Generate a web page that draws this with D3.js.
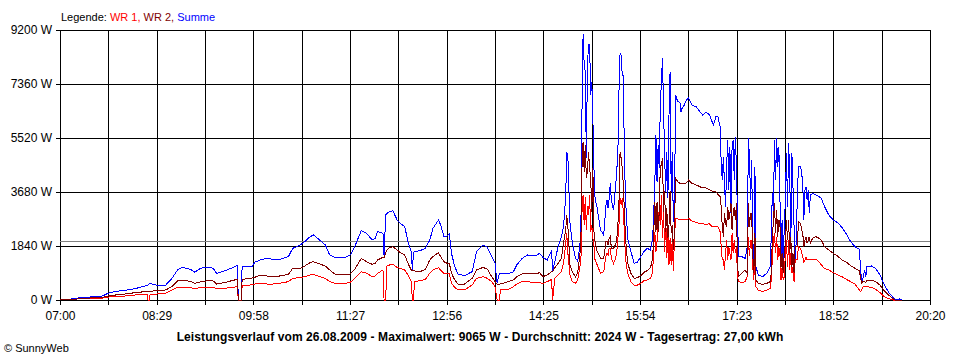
<!DOCTYPE html>
<html><head><meta charset="utf-8">
<script src="https://cdn.jsdelivr.net/npm/d3@7"></script>
<style>
body{margin:0;background:#fff;}
svg{display:block;font-family:"Liberation Sans",Arial,sans-serif;}
</style></head>
<body><svg id="c" width="960" height="360"></svg>
<script>
// minutes after 07:00
const times = [0,8,15,20,25,30,36,40,44,51,60,69,78,80,81,82,83,89,97,103,108,112,120,124,129,136,141,144,152,158,163,164,166.5,167.5,177,179,184,190,196,202,210,214,221,225,230,233,237,244,248,253,262,267,271,277,282,287,290,292,297,298,299.5,300.5,303,306,310,313,317,320,323,324,325,326,331,336,340,343,348,350,353,356,358,360,363,366,372,379,383,389,393,397,400,402,404,405,412,417,420,425,430,437,441,444,448,451,452,453,455,458,461,463,465,466,467,469,471,474,476,478,479,480,481,482,483,484,485,486,487,488,489,490,491,492,494,497,500,502,503,504,505,506,507,509,511,512,513,514,515,516,517,518,519,520,522,525,528,531,534,537,540,543,545,546,547,548,549,550,551,552,553,554,555,556,557,558,559,560,561,562,563,564,565,566,568,570,571,572,574,576,578,581,585,589,591,594,597,599,601,603,605,607,608,609,610,611,612,613,614,615,616,617,618,619,620,621,622,623,624,627,630,632,633,634,635,636,637,638,639,640,642,646,650,653,654,655,656,657,658,659,660,661,662,663,664,665,666,667,668,669,670,671,672,673,674,675,676,677,678,679,681,682,683,684,685,686,687,688,689,690,692,695,698,700,703,707,711,715,719,723,727,731,735,736,737,738,739,740,741,742,746,750,754,758,762,766,768,772,774];
const summe = [10,20,60,90,80,120,110,150,228,295,330,386,477,490,520,560,560,500,500,738,1022,1113,1045,943,1079,1124,1079,909,999,1090,1181,0,0,1158,1158,1284,1363,1420,1386,1386,1477,1761,1874,1988,2158,2215,2101,1874,1533,1442,1454,1533,1817,2362,2271,2044,2101,2328,2271,1500,2896,2950,3010,3044,2726,2612,2498,1988,1647,1022,1600,1647,1681,1761,2044,2442,2726,2555,2180,2180,2248,1590,1136,886,829,966,1647,1874,1795,1477,1250,568,909,909,886,966,1192,1420,1533,1499,1590,1454,1363,1590,1704,966,1306,1817,2158,2498,3520,5053,4882,2612,1988,1420,1329,1800,2500,6500,9065,8007,7780,4826,8007,8688,8700,7000,7438,6200,4487,3465,3124,2385,2214,3237,3407,3124,3465,3976,3407,3066,3918,4429,5053,7097,8404,8348,7666,7666,4826,3465,2101,1647,1250,1284,1477,1647,1761,1704,2101,3010,4032,5621,4032,5280,4487,6643,7438,8233,6530,4826,3691,5053,3465,6300,7780,3691,5053,2669,2669,6984,6757,6740,6416,6530,6643,6814,6893,6643,6587,6393,6303,6393,6325,6132,5962,6245,6245,5905,4656,4088,4882,3976,3180,4543,5451,3748,5224,2953,5224,5451,4088,5564,4543,2726,1477,1477,1420,1817,5508,4883,3407,4770,1817,1363,4543,1136,852,795,909,1136,2158,3634,2953,5451,4088,5508,4543,5224,3520,1477,2726,1363,2498,3407,4998,3180,5338,4315,1817,4998,3861,2498,1250,2044,3520,4543,4565,4315,3975,2726,3748,3861,3407,3748,2953,3577,3634,3577,3520,3464,3180,2896,2726,2635,2476,2250,1988,1817,1727,1136,681,681,852,1022,795,1136,1160,1070,852,511,261,91,23,34,0];
const wr2 = [0,10,30,60,50,80,80,100,136,170,204,250,284,290,295,300,300,318,341,454,647,681,636,568,613,659,647,545,602,659,704,0,0,704,750,772,852,818,795,818,875,1079,1079,1158,1272,1306,1250,1158,1022,875,852,886,1045,1420,1306,1215,1250,1363,1454,1454,1600,1700,1783,1817,1704,1613,1533,1250,1022,1000,1000,990,966,1045,1363,1477,1613,1477,1306,1250,1250,909,682,545,545,738,1022,1113,1045,795,625,545,545,545,625,682,795,886,909,886,931,795,852,931,966,966,1102,1250,1420,1931,2385,2896,2498,1192,966,795,909,1500,2101,4500,5400,4371,5280,4146,4371,5053,4500,4146,3010,4487,2328,1988,1647,1420,1420,1988,2000,1874,2100,2158,1761,1761,1900,2100,2555,3350,5053,4826,4487,3930,3010,2101,1250,909,738,760,829,943,1000,1102,1420,2328,3350,2328,3350,2328,3000,4600,4600,4826,3010,3700,2328,3124,2100,2555,3700,2300,2555,1700,2328,4146,4032,3976,3976,3976,3976,3990,4088,3976,3920,3850,3850,3816,3770,3725,3691,3691,3600,3520,3180,2498,2158,2953,2612,2498,3180,2726,2953,3293,2385,2953,3180,2726,3293,1136,795,909,1022,909,3293,2500,2953,2953,1590,909,2271,681,568,530,568,625,909,2044,2726,3293,2271,3066,2158,2726,2612,1136,1590,909,1590,1931,2726,2044,2726,1590,2158,1136,1590,909,1817,1817,1817,2669,2612,2385,2271,1817,2044,2158,1931,2044,2158,1931,2100,2158,2101,2044,1817,1704,1590,1500,1363,1295,1170,1079,1000,795,568,625,625,625,604,681,681,625,511,307,170,45,0,0,0];
const wr1 = [0,10,30,50,40,60,60,70,100,114,136,170,204,204,0,0,204,204,227,341,431,431,420,386,420,443,431,375,398,431,454,0,0,477,522,545,568,545,545,568,625,738,761,795,852,875,818,738,625,568,568,602,738,966,909,795,818,909,1022,0,0,1150,1192,1215,1113,1079,1022,852,625,0,0,620,659,704,909,1022,1102,1022,909,886,886,568,431,341,341,511,738,795,738,625,454,0,0,341,352,454,545,625,625,590,590,568,625,682,682,0,738,852,966,1250,1931,2271,1600,852,625,568,681,1100,1363,3000,3577,2555,3500,2400,3200,2900,3577,2328,2555,2100,1874,1363,1192,909,966,1500,1600,1533,1761,1761,1420,1250,1420,1650,2101,2555,3465,3237,3465,3010,2328,1420,909,625,511,511,568,659,680,738,966,1874,2328,1647,1988,2900,3010,2555,3577,2100,3010,1647,2783,1420,2328,1192,2100,1192,2100,1000,2100,2783,2760,2726,2726,2726,2726,2726,2783,2692,2647,2600,2600,2578,2600,2521,2498,2498,2500,2328,1817,1363,1363,1022,1590,2044,1363,1817,1590,1363,2271,1590,2044,1590,1817,795,625,590,625,795,2158,1500,2044,2044,1136,681,1704,454,340,284,340,398,681,1363,2044,2271,1590,2158,1363,1817,1590,681,1136,681,795,1590,2044,1136,2044,1022,1590,909,1136,625,1363,1363,1363,1817,1760,1590,1477,1300,1363,1477,1363,1363,1363,1363,1363,1386,1300,1200,1079,1022,931,852,795,704,625,545,340,284,340,430,477,477,454,454,431,363,250,114,45,0,0,0];

const yTicks = [0,1840,3680,5520,7360,9200];
const yTickLabels = ["0 W","1840 W","3680 W","5520 W","7360 W","9200 W"];
const xTickLabels = ["07:00","08:29","09:58","11:27","12:56","14:25","15:54","17:23","18:52","20:20"];
const gridCount = 18;
const spanMinutes = 800;
const average = 2024;
const legend = [{t:"Legende: ",c:"#000000"},{t:"WR 1, ",c:"#ff0000"},{t:"WR 2, ",c:"#800000"},{t:"Summe",c:"#0000ff"}];
const title = "Leistungsverlauf vom 26.08.2009 - Maximalwert: 9065 W - Durchschnitt: 2024 W - Tagesertrag: 27,00 kWh";

const svg = d3.select("#c");
const L=60,R=930,T=30,B=300;
const x = d3.scaleLinear().domain([0,spanMinutes]).range([L,R]);
const y = d3.scaleLinear().domain([0,9200]).range([B,T]);

// x grid + labels
const xVals = d3.range(gridCount+1).map(i=>i*spanMinutes/gridCount);
const xAxis = d3.axisBottom(x).tickValues(xVals).tickSizeInner(-(B+5-T)).tickSizeOuter(0).tickPadding(6)
  .tickFormat((d,i)=> i%2===0 ? xTickLabels[i/2] : "");
const gx = svg.append("g").attr("transform",`translate(0,${B+5})`).call(xAxis);
gx.select(".domain").remove();
gx.selectAll("line").attr("stroke","#000").attr("shape-rendering","crispEdges");
gx.selectAll("text").attr("font-size",12).attr("fill","#000");

const yAxis = d3.axisLeft(y).tickValues(yTicks).tickSizeInner(-(R-L+4)).tickSizeOuter(0).tickPadding(4)
  .tickFormat((d,i)=>yTickLabels[i]);
const gy = svg.append("g").attr("transform",`translate(${L-4},0)`).call(yAxis);
gy.select(".domain").remove();
gy.selectAll("line").attr("stroke","#000").attr("shape-rendering","crispEdges");
gy.selectAll("text").attr("font-size",12).attr("fill","#000");

// average line
svg.append("line").attr("x1",L).attr("x2",R).attr("y1",Math.round(y(average))+0.5).attr("y2",Math.round(y(average))+0.5)
  .attr("stroke","#808080").attr("stroke-width",1);

const rows = times.map((t,i)=>({t,s:summe[i],a:wr1[i],b:wr2[i]}));
const mk = key => d3.line().x(d=>x(d.t)).y(d=>y(d[key]));
[["s","#0000ff"],["a","#ff0000"],["b","#800000"]].forEach(([k,c])=>{
  svg.append("path").datum(rows).attr("d",mk(k)).attr("fill","none").attr("stroke",c)
    .attr("stroke-width",1).attr("shape-rendering","crispEdges");
});

// legend
const lt = svg.append("text").attr("x",61).attr("y",21).attr("font-size",11);
legend.forEach(p=>lt.append("tspan").attr("fill",p.c).text(p.t));

svg.append("text").attr("x",480).attr("y",341).attr("text-anchor","middle").attr("font-size",12).attr("font-weight","bold")
  .attr("letter-spacing",0.1).text(title);
svg.append("text").attr("x",4).attr("y",352).attr("font-size",11).text("© SunnyWeb");
</script></body></html>
